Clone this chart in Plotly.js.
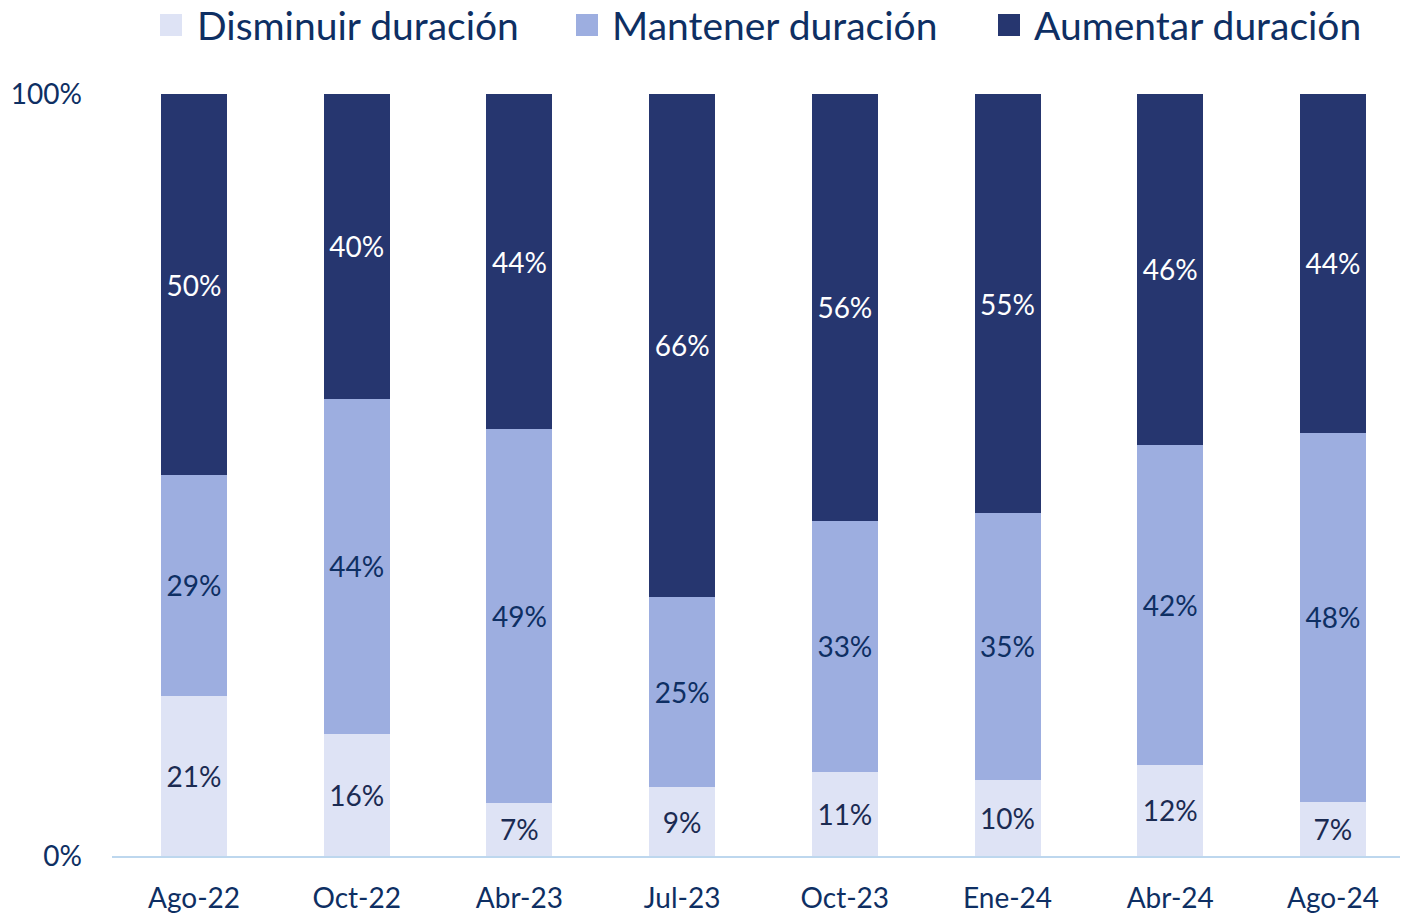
<!DOCTYPE html>
<html><head><meta charset="utf-8">
<script src="https://cdn.plot.ly/plotly-3.0.1.min.js"></script>
<style>html,body{margin:0;padding:0;background:#fff}#chart{width:1401px;height:913px}</style>
</head><body><div id="chart"></div>
<script>
const categories = ["Ago-22","Oct-22","Abr-23","Jul-23","Oct-23","Ene-24","Abr-24","Ago-24"];
const seriesNames = ["Disminuir duración","Mantener duración","Aumentar duración"];
const disminuir = [21,16,7,9,11,10,12,7];
const mantener  = [29,44,49,25,33,35,42,48];
const aumentar  = [50,40,44,66,56,55,46,44];
const yTickVals = [0,100];

const FONT = "Lato, 'Open Sans', sans-serif";
const TXT = "#0E2F63";
const colors = ["#DEE3F5","#9DAEE0","#26366F"];
const labelColors = ["#1B2B52","#0E2F63","#FFFFFF"];
const series = [disminuir, mantener, aumentar];

const traces = series.map((vals,i)=>({
  type:"bar", x:categories, y:vals, name:seriesNames[i],
  marker:{color:colors[i], line:{width:0}},
  text: vals.map(v=>v+"%"), textposition:"inside", insidetextanchor:"middle",
  textangle:0, textfont:{family:FONT, size:28, color:labelColors[i]},
  hoverinfo:"skip", showlegend:false, cliponaxis:false
}));

// plot area in pixels
const L=112, R=1400, T=94, B=856;
const px = x => (x-L)/(R-L);
const py = y => (B-y)/(B-T);

const legendSq = [160, 576, 998];
const legendTx = [195, 610, 1032];
const shapes = [], annotations = [];
seriesNames.forEach((n,i)=>{
  shapes.push({type:"rect", xref:"paper", yref:"paper",
    x0:px(legendSq[i]), x1:px(legendSq[i]+22), y0:py(36), y1:py(14),
    fillcolor:colors[i], line:{width:0}});
  annotations.push({xref:"paper", yref:"paper", x:px(legendTx[i]), y:py(25),
    xanchor:"left", yanchor:"middle", text:n, showarrow:false,
    font:{family:FONT, size:39, color:TXT}});
});

const layout = {
  width:1401, height:913,
  margin:{l:L, r:1401-R, t:T, b:913-B, pad:0},
  paper_bgcolor:"#fff", plot_bgcolor:"#fff",
  barmode:"stack", barnorm:"percent", bargap:0.594,
  showlegend:false,
  uniformtext:{mode:"show", minsize:28},
  xaxis:{type:"category", range:[-0.504,7.412], showline:true, linecolor:"#BDD7EE", linewidth:2,
    ticks:"", showgrid:false, tickfont:{family:FONT, size:28, color:TXT}, ticklabelstandoff:16, fixedrange:true},
  yaxis:{range:[0,100], tickvals:yTickVals, ticktext:yTickVals.map(v=>v+"%"),
    showgrid:true, gridcolor:"#D5E5F7", gridwidth:1.5, griddash:"6px,3px", zeroline:false,
    showline:false, ticks:"", tickfont:{family:FONT, size:28, color:TXT}, ticklabelstandoff:29, fixedrange:true},
  shapes, annotations
};
Plotly.newPlot("chart", traces, layout, {displayModeBar:false, staticPlot:true});
</script></body></html>
